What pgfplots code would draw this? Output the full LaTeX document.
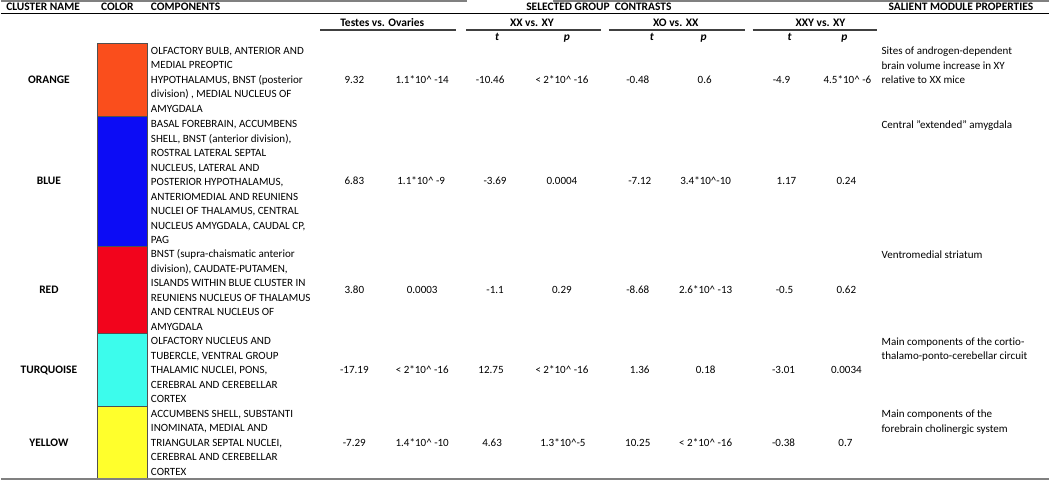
\documentclass[border=0pt]{standalone}
\usepackage{pgfplots}
\pgfplotsset{compat=1.18}
\usepackage{fontspec}
\setmainfont{Carlito}[Ligatures=CommonOff]
\definecolor{cOrange}{RGB}{250,78,28}
\definecolor{cBlue}{RGB}{12,12,245}
\definecolor{cRed}{RGB}{242,4,28}
\definecolor{cTurq}{RGB}{60,252,236}
\definecolor{cYellow}{RGB}{255,255,44}
\definecolor{ruleGray}{RGB}{128,128,128}
\definecolor{boxEdge}{RGB}{80,80,80}
\newcommand{\rf}{\fontsize{8.3}{10.9}\selectfont}
\newcommand{\hf}{\fontsize{8.6}{10.9}\selectfont\bfseries}
\begin{document}
\begin{tikzpicture}[every node/.style={inner sep=0pt, font=\rf}]
\begin{axis}[scale only axis, width=787.5pt, height=360.75pt,
  xmin=0, xmax=1050, ymin=0, ymax=481, y dir=reverse,
  axis lines=none, ticks=none, clip=false]
\path (axis cs:0,0) rectangle (axis cs:1050,481);

% colour boxes
\addplot[fill=cOrange, draw=boxEdge, line width=0.6pt] coordinates {(97,43) (147,43) (147,116.5) (97,116.5)} --cycle;
\addplot[fill=cBlue, draw=boxEdge, line width=0.6pt] coordinates {(97,116.5) (147,116.5) (147,247) (97,247)} --cycle;
\addplot[fill=cRed, draw=boxEdge, line width=0.6pt] coordinates {(97,247) (147,247) (147,334) (97,334)} --cycle;
\addplot[fill=cTurq, draw=boxEdge, line width=0.6pt] coordinates {(97,334) (147,334) (147,407) (97,407)} --cycle;
\addplot[fill=cYellow, draw=boxEdge, line width=0.6pt] coordinates {(97,407) (147,407) (147,480) (97,480)} --cycle;

% rules
\draw[ruleGray, line width=1.5pt] (axis cs:0,1) -- (axis cs:467,1);
\draw[ruleGray, line width=1.5pt] (axis cs:553,1) -- (axis cs:1050,1);
\draw[black, line width=0.75pt] (axis cs:0,14) -- (axis cs:1050,14);
\draw[black!75, line width=0.9pt] (axis cs:320,30) -- (axis cs:456,30);
\draw[black!75, line width=0.9pt] (axis cs:466,30) -- (axis cs:601,30);
\draw[black!75, line width=0.9pt] (axis cs:609,30) -- (axis cs:745,30);
\draw[black!75, line width=0.9pt] (axis cs:753,30) -- (axis cs:878,30);
\draw[ruleGray, line width=1.5pt] (axis cs:0,480) -- (axis cs:1050,480);

% header line 1
\node[anchor=base west, font=\hf] at (axis cs:5,10.5) {CLUSTER NAME};
\node[anchor=base west, font=\hf] at (axis cs:100,10.5) {COLOR};
\node[anchor=base west, font=\hf] at (axis cs:150,10.5) {COMPONENTS};
\node[anchor=base, font=\hf] at (axis cs:599,10.5) {SELECTED GROUP\ \ CONTRASTS};
\node[anchor=base west, font=\hf] at (axis cs:889,10.5) {SALIENT MODULE PROPERTIES};
% header line 2
\node[anchor=base, font=\hf] at (axis cs:382,26.5) {Testes vs. Ovaries};
\node[anchor=base, font=\hf] at (axis cs:532,26.5) {XX vs. XY};
\node[anchor=base, font=\hf] at (axis cs:676,26.5) {XO vs. XX};
\node[anchor=base, font=\hf] at (axis cs:821,26.5) {XXY vs. XY};
% header line 3
\node[anchor=base, font=\hf\itshape] at (axis cs:497,40.5) {t};
\node[anchor=base, font=\hf\itshape] at (axis cs:567,40.5) {p};
\node[anchor=base, font=\hf\itshape] at (axis cs:652,40.5) {t};
\node[anchor=base, font=\hf\itshape] at (axis cs:704,40.5) {p};
\node[anchor=base, font=\hf\itshape] at (axis cs:790,40.5) {t};
\node[anchor=base, font=\hf\itshape] at (axis cs:845,40.5) {p};

% cluster names
\node[anchor=base, font=\hf] at (axis cs:48,83.3) {ORANGE};
\node[anchor=base, font=\hf] at (axis cs:48,185.3) {BLUE};
\node[anchor=base, font=\hf] at (axis cs:48,294.1) {RED};
\node[anchor=base, font=\hf] at (axis cs:48,374.1) {TURQUOISE};
\node[anchor=base, font=\hf] at (axis cs:48,447.1) {YELLOW};

% components
\node[anchor=north west, align=left] at (axis cs:150,46.8) {OLFACTORY BULB, ANTERIOR AND\\MEDIAL PREOPTIC\\HYPOTHALAMUS, BNST (posterior\\division) , MEDIAL NUCLEUS OF\\AMYGDALA};
\node[anchor=north west, align=left] at (axis cs:150,120.3) {BASAL FOREBRAIN, ACCUMBENS\\SHELL, BNST (anterior division),\\ROSTRAL LATERAL SEPTAL\\NUCLEUS, LATERAL AND\\POSTERIOR HYPOTHALAMUS,\\ANTERIOMEDIAL AND REUNIENS\\NUCLEI OF THALAMUS, CENTRAL\\NUCLEUS AMYGDALA, CAUDAL CP,\\PAG};
\node[anchor=north west, align=left] at (axis cs:150,250) {BNST (supra-chaismatic anterior\\division), CAUDATE-PUTAMEN,\\ISLANDS WITHIN BLUE CLUSTER IN\\REUNIENS NUCLEUS OF THALAMUS\\AND CENTRAL NUCLEUS OF\\AMYGDALA};
\node[anchor=north west, align=left] at (axis cs:150,337.8) {OLFACTORY NUCLEUS AND\\TUBERCLE, VENTRAL GROUP\\THALAMIC NUCLEI, PONS,\\CEREBRAL AND CEREBELLAR\\CORTEX};
\node[anchor=north west, align=left] at (axis cs:150,410.8) {ACCUMBENS SHELL, SUBSTANTI\\INOMINATA, MEDIAL AND\\TRIANGULAR SEPTAL NUCLEI,\\CEREBRAL AND CEREBELLAR\\CORTEX};

% values: orange
\node[anchor=base] at (axis cs:354,83.3) {9.32};
\node[anchor=base] at (axis cs:422,83.3) {1.1*10\textasciicircum\ -14};
\node[anchor=base] at (axis cs:490,83.3) {-10.46};
\node[anchor=base] at (axis cs:562,83.3) {< 2*10\textasciicircum\ -16};
\node[anchor=base] at (axis cs:638,83.3) {-0.48};
\node[anchor=base] at (axis cs:705,83.3) {0.6};
\node[anchor=base] at (axis cs:782,83.3) {-4.9};
\node[anchor=base] at (axis cs:848,83.3) {4.5*10\textasciicircum\ -6};
% blue
\node[anchor=base] at (axis cs:354,185.3) {6.83};
\node[anchor=base] at (axis cs:421,185.3) {1.1*10\textasciicircum\ -9};
\node[anchor=base] at (axis cs:495,185.3) {-3.69};
\node[anchor=base] at (axis cs:562,185.3) {0.0004};
\node[anchor=base] at (axis cs:640,185.3) {-7.12};
\node[anchor=base] at (axis cs:706,185.3) {3.4*10\textasciicircum-10};
\node[anchor=base] at (axis cs:787,185.3) {1.17};
\node[anchor=base] at (axis cs:847,185.3) {0.24};
% red
\node[anchor=base] at (axis cs:354,294.1) {3.80};
\node[anchor=base] at (axis cs:422,294.1) {0.0003};
\node[anchor=base] at (axis cs:495,294.1) {-1.1};
\node[anchor=base] at (axis cs:562,294.1) {0.29};
\node[anchor=base] at (axis cs:638,294.1) {-8.68};
\node[anchor=base] at (axis cs:706,294.1) {2.6*10\textasciicircum\ -13};
\node[anchor=base] at (axis cs:785,294.1) {-0.5};
\node[anchor=base] at (axis cs:847,294.1) {0.62};
% turquoise
\node[anchor=base] at (axis cs:354,374.1) {-17.19};
\node[anchor=base] at (axis cs:422,374.1) {< 2*10\textasciicircum\ -16};
\node[anchor=base] at (axis cs:491,374.1) {12.75};
\node[anchor=base] at (axis cs:562,374.1) {< 2*10\textasciicircum\ -16};
\node[anchor=base] at (axis cs:640,374.1) {1.36};
\node[anchor=base] at (axis cs:706,374.1) {0.18};
\node[anchor=base] at (axis cs:784,374.1) {-3.01};
\node[anchor=base] at (axis cs:847,374.1) {0.0034};
% yellow
\node[anchor=base] at (axis cs:354,447.1) {-7.29};
\node[anchor=base] at (axis cs:422,447.1) {1.4*10\textasciicircum\ -10};
\node[anchor=base] at (axis cs:492,447.1) {4.63};
\node[anchor=base] at (axis cs:563,447.1) {1.3*10\textasciicircum-5};
\node[anchor=base] at (axis cs:638,447.1) {10.25};
\node[anchor=base] at (axis cs:706,447.1) {< 2*10\textasciicircum\ -16};
\node[anchor=base] at (axis cs:784,447.1) {-0.38};
\node[anchor=base] at (axis cs:846,447.1) {0.7};

% salient properties
\node[anchor=north west, align=left] at (axis cs:882,46.8) {Sites of androgen-dependent\\brain volume increase in XY\\relative to XX mice};
\node[anchor=north west, align=left] at (axis cs:882,120.3) {Central "extended" amygdala};
\node[anchor=north west, align=left] at (axis cs:882,250.8) {Ventromedial striatum};
\node[anchor=north west, align=left] at (axis cs:882,337.8) {Main components of the cortio-\\thalamo-ponto-cerebellar circuit};
\node[anchor=north west, align=left] at (axis cs:882,410.8) {Main components of the\\forebrain cholinergic system};
\end{axis}
\end{tikzpicture}
\end{document}
